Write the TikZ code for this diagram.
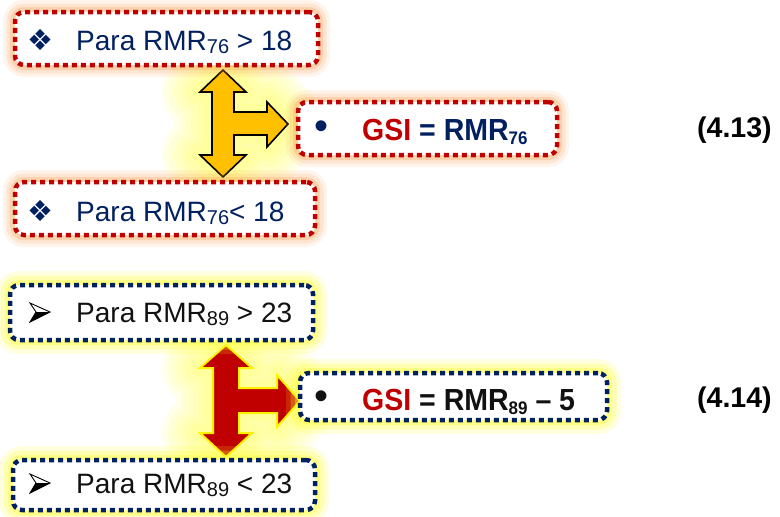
\documentclass[tikz,border=0pt]{standalone}
\usepackage{fontspec}
\setmainfont{Liberation Sans}
\newfontfamily\symfont{DejaVu Sans}

\definecolor{navy}{HTML}{002060}
\definecolor{darkred}{HTML}{C00000}
\definecolor{amber}{HTML}{FFC000}
\definecolor{glowOrange}{HTML}{F79646}
\definecolor{glowYellow}{HTML}{FFFF30}
\definecolor{inkblack}{HTML}{111111}

% lowered, smaller index after RMR
\newcommand\lowsub[1]{\raisebox{-0.14em}{\fontsize{20}{20}\selectfont #1}}
\newcommand\lowsubb[1]{\raisebox{-0.16em}{\fontsize{17}{17}\selectfont #1}}
% three-dimensional arrowhead bullet, back edge at the given point
\newcommand\arrowbullet[2]{%
  \fill[black] (#1+20,#2) -- (#1+6,#2) -- (#1,#2+10) -- cycle;
  \draw[black, line width=0.9pt, line join=miter]
    (#1+20,#2) -- (#1,#2-9) -- (#1+6,#2) -- (#1,#2+10) -- cycle;}

\tikzset{
  dotbox/.style={draw, line width=4.5pt, dash pattern=on 5pt off 4pt,
    rounded corners=9pt, fill=white, inner sep=0pt, line cap=butt},
  redbox/.style={dotbox, draw=darkred,
    preaction={draw=glowOrange, solid, line width=24pt, draw opacity=0.10},
    preaction={draw=glowOrange, solid, line width=17pt, draw opacity=0.16},
    preaction={draw=glowOrange, solid, line width=10pt, draw opacity=0.25}},
  bluebox/.style={dotbox, draw=navy,
    preaction={draw=glowYellow, solid, line width=28pt, draw opacity=0.15},
    preaction={draw=glowYellow, solid, line width=19pt, draw opacity=0.25},
    preaction={draw=glowYellow, solid, line width=10pt, draw opacity=0.35}},
  halo/.style={draw=glowYellow, line join=round, draw opacity=0.10},
  plain/.style={font=\fontsize{28}{28}\selectfont, inner sep=0pt, anchor=base west},
  formula/.style={font=\bfseries\fontsize{28.5}{28.5}\selectfont, inner sep=0pt, anchor=base west},
  eqn/.style={font=\bfseries\fontsize{28.5}{28.5}\selectfont, inner sep=0pt, anchor=base west},
  bullet/.style={inner sep=0pt},
}

\begin{document}
\begin{tikzpicture}[x=1pt, y=-1pt]
\useasboundingbox (0,0) rectangle (780,517);

% ---- three-way arrow, upper group ----
\def\arrowA{(223,70) -- (246,92) -- (234,92) -- (234,112) -- (267,112) -- (267,102)
  -- (288,124) -- (267,147) -- (267,135) -- (234,135) -- (234,155) -- (246,155)
  -- (223,177) -- (200,155) -- (212,155) -- (212,92) -- (200,92) -- cycle}
\foreach \w in {76,64,52,40,28,16} \draw[halo, line width=\w pt] \arrowA;
\draw[fill=amber, draw=black, line width=1.6pt, line join=miter] \arrowA;

% ---- three-way arrow, lower group ----
\def\arrowB{(226,345) -- (252,368) -- (239,368) -- (239,388) -- (277,388) -- (277,375)
  -- (300,401) -- (277,427) -- (277,413) -- (239,413) -- (239,433) -- (252,433)
  -- (226,457) -- (200,433) -- (213,433) -- (213,368) -- (200,368) -- cycle}
\foreach \w in {76,64,52,40,28,16} \draw[halo, line width=\w pt] \arrowB;
\draw[fill=darkred, draw=yellow, line width=2pt, line join=miter] \arrowB;

% ---- upper group boxes ----
\node[redbox, minimum width=303pt, minimum height=53pt] (b1) at (166.5,38.5) {};
\node[redbox, minimum width=300pt, minimum height=53pt] (b2) at (165,208.5) {};
\node[redbox, minimum width=259pt, minimum height=53pt] (g1) at (427.5,128.5) {};

\node[bullet, text=navy, font=\symfont\fontsize{29}{29}\selectfont] (s1) at (40,40) {❖};
\node[plain, text=navy] (t1) at (76,50) {Para RMR\lowsub{76} > 18};
\node[bullet, text=navy, font=\symfont\fontsize{29}{29}\selectfont] (s2) at (40,211) {❖};
\node[plain, text=navy] (t2) at (76,221) {Para RMR\lowsub{76}< 18};

\node[bullet, text=navy, font=\fontsize{40}{40}\selectfont] (d1) at (321,130) {•};
\node[formula] (f1) at (362,140)
  {\scalebox{1}[1.07]{\textcolor{darkred}{GSI} \textcolor{navy}{= RMR\lowsubb{76}}}};

\node[eqn] (e1) at (697,137) {(4.13)};

% ---- lower group boxes ----
\node[bluebox, minimum width=303pt, minimum height=55pt] (b3) at (161.5,312.5) {};
\node[bluebox, minimum width=302pt, minimum height=50pt] (b4) at (164,485) {};
\node[bluebox, minimum width=307pt, minimum height=47pt] (g2) at (453.5,396.5) {};

\arrowbullet{30}{312}
\node[plain, text=inkblack] (t3) at (76,322) {Para RMR\lowsub{89} > 23};
\arrowbullet{30}{483}
\node[plain, text=inkblack] (t4) at (76,493) {Para RMR\lowsub{89} < 23};

\node[bullet, text=inkblack, font=\fontsize{40}{40}\selectfont] (d2) at (321,400) {•};
\node[formula] (f2) at (362,410)
  {\scalebox{1}[1.07]{\textcolor{darkred}{GSI} \textcolor{inkblack}{= RMR\lowsubb{89} – 5}}};

\node[eqn] (e2) at (697,407) {(4.14)};
\end{tikzpicture}
\end{document}
